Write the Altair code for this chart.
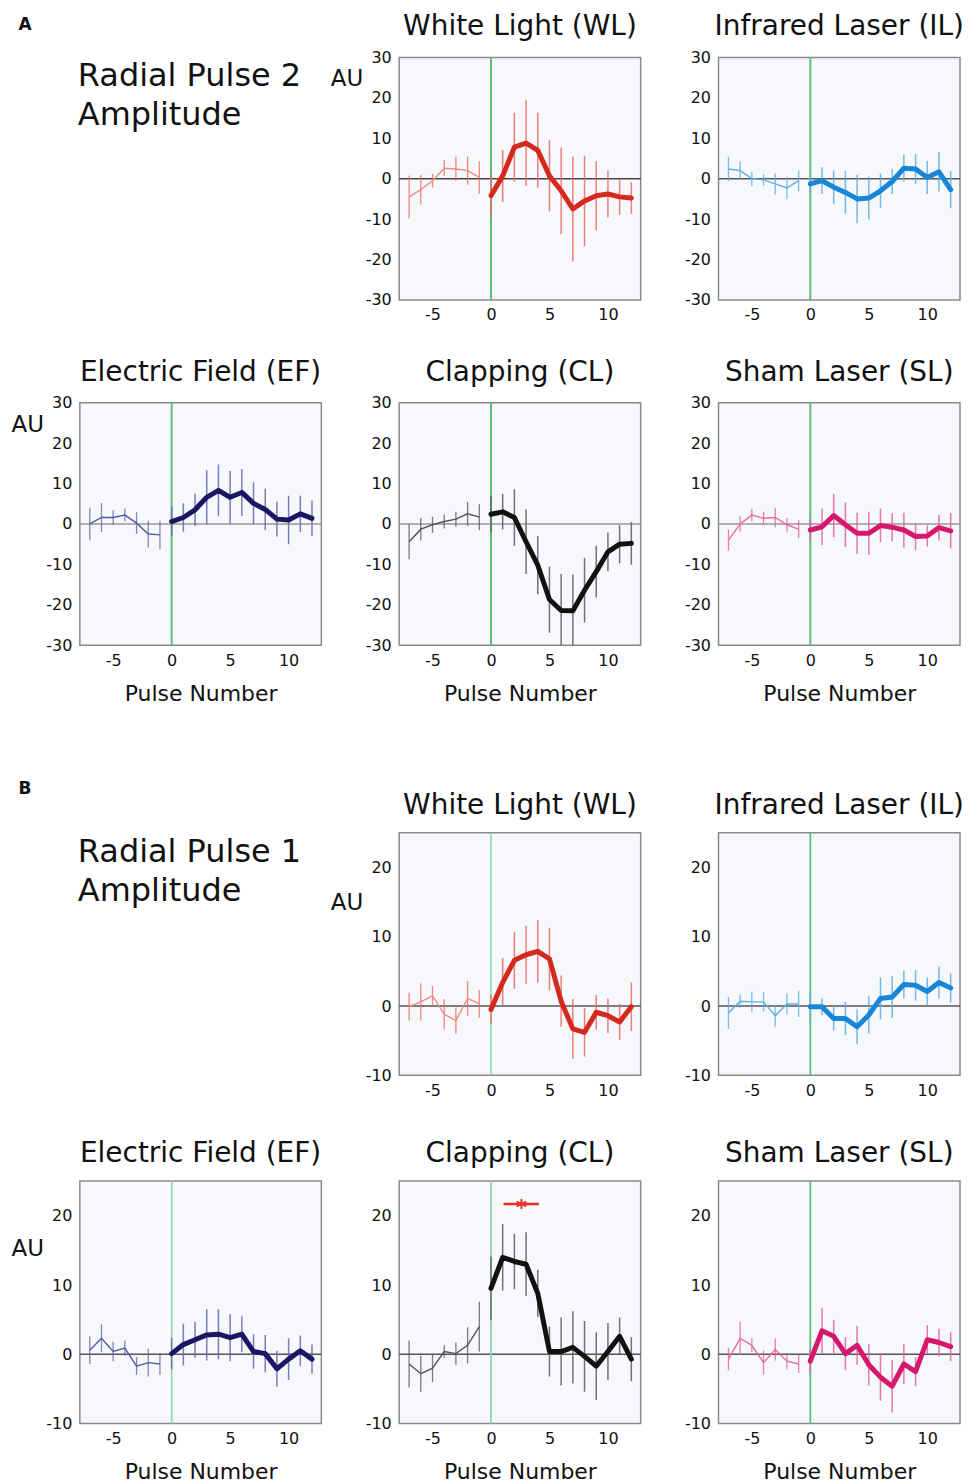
import altair as alt
import pandas as pd

# ---------------- data ----------------
PRE_X = [-7, -6, -5, -4, -3, -2, -1]
POST_X = [0, 1, 2, 3, 4, 5, 6, 7, 8, 9, 10, 11, 12]
X_TICKS = [-5, 0, 5, 10]
X_DOMAIN = [-7.85, 12.8]

A_Y_DOMAIN = [-30, 30]
A_Y_TICKS = [-30, -20, -10, 0, 10, 20, 30]
B_Y_DOMAIN = [-10, 25]
B_Y_TICKS = [-10, 0, 10, 20]

# Panel A: Radial Pulse 2 amplitude
A_WL_PRE = [-4.5, -2.7, -0.5, 2.6, 2.4, 2.0, 0.3]
A_WL_PRE_ERR = [5.3, 3.7, 1.7, 2.0, 3.0, 3.5, 4.0]
A_WL_POST = [-4.2, 0.7, 7.8, 8.8, 7.0, 0.7, -3.0, -7.5, -5.5, -4.2, -3.8, -4.5, -4.8]
A_WL_POST_ERR = [5.2, 6.4, 8.5, 10.6, 9.3, 8.8, 10.7, 13.0, 11.2, 8.5, 5.8, 4.4, 3.9]

A_IL_PRE = [2.4, 2.0, 0.0, -0.3, -1.3, -2.3, -0.5]
A_IL_PRE_ERR = [3.0, 2.3, 1.8, 1.4, 2.6, 2.8, 2.6]
A_IL_POST = [-1.3, -0.5, -2.1, -3.4, -5.0, -4.8, -3.0, -0.7, 2.6, 2.4, 0.3, 1.7, -2.7]
A_IL_POST_ERR = [2.3, 3.3, 4.1, 5.3, 6.0, 5.3, 4.2, 3.1, 3.3, 3.7, 4.1, 4.9, 4.6]

A_EF_PRE = [0.0, 1.6, 1.6, 2.2, 0.2, -2.5, -2.7]
A_EF_PRE_ERR = [4.0, 3.6, 1.8, 1.6, 2.7, 3.3, 3.5]
A_EF_POST = [0.6, 1.6, 3.5, 6.6, 8.3, 6.6, 7.8, 5.1, 3.6, 1.2, 1.0, 2.5, 1.4]
A_EF_POST_ERR = [3.6, 3.5, 4.0, 6.7, 6.4, 6.5, 5.8, 5.2, 5.1, 4.3, 6.0, 4.5, 4.4]

A_CL_PRE = [-4.4, -1.3, -0.2, 0.6, 1.2, 2.5, 1.7]
A_CL_PRE_ERR = [4.3, 2.8, 2.0, 1.7, 1.8, 3.0, 3.2]
A_CL_POST = [2.4, 3.0, 1.6, -4.4, -10.2, -18.7, -21.4, -21.5, -16.4, -11.8, -6.9, -5.0, -4.8]
A_CL_POST_ERR = [4.5, 4.4, 7.0, 8.0, 7.2, 8.2, 9.0, 9.0, 8.0, 6.4, 4.8, 4.7, 5.3]

A_SL_PRE = [-4.0, 0.0, 2.2, 1.4, 1.6, -0.2, -1.3]
A_SL_PRE_ERR = [2.6, 1.9, 1.5, 1.6, 2.4, 1.7, 2.2]
A_SL_POST = [-1.5, -0.7, 2.1, -0.2, -2.3, -2.3, -0.4, -0.8, -1.5, -3.1, -3.0, -0.9, -1.7]
A_SL_POST_ERR = [2.7, 4.5, 5.4, 5.5, 5.1, 5.3, 4.2, 3.5, 4.3, 3.3, 2.6, 3.2, 4.4]

# Panel B: Radial Pulse 1 amplitude
B_WL_PRE = [-0.1, 0.6, 1.5, -1.2, -2.1, 1.1, 0.3]
B_WL_PRE_ERR = [2.0, 2.7, 1.4, 2.2, 1.9, 2.5, 2.0]
B_WL_POST = [-0.5, 3.4, 6.6, 7.4, 7.9, 6.8, 0.7, -3.3, -3.8, -0.9, -1.4, -2.3, -0.1]
B_WL_POST_ERR = [2.1, 3.5, 4.1, 4.2, 4.5, 4.5, 3.7, 4.3, 3.5, 2.5, 2.5, 2.6, 3.5]

B_IL_PRE = [-1.0, 0.7, 0.6, 0.6, -1.4, 0.3, 0.3]
B_IL_PRE_ERR = [2.3, 1.0, 1.5, 1.4, 1.6, 1.5, 1.9]
B_IL_POST = [-0.1, -0.1, -1.8, -1.8, -3.0, -1.3, 1.1, 1.3, 3.1, 3.0, 2.1, 3.4, 2.6]
B_IL_POST_ERR = [1.8, 1.2, 1.7, 2.4, 2.5, 2.7, 3.0, 3.0, 2.0, 2.2, 2.0, 2.3, 2.1]

B_EF_PRE = [0.6, 2.3, 0.4, 0.9, -1.7, -1.2, -1.4]
B_EF_PRE_ERR = [2.0, 2.0, 1.4, 1.1, 1.3, 2.0, 1.6]
B_EF_POST = [0.1, 1.4, 2.1, 2.8, 2.9, 2.4, 2.9, 0.4, 0.1, -2.1, -0.7, 0.5, -0.7]
B_EF_POST_ERR = [2.3, 3.0, 2.6, 3.7, 3.6, 3.4, 2.6, 2.5, 2.7, 2.6, 3.0, 2.2, 2.1]

B_CL_PRE = [-1.4, -2.8, -2.0, 0.4, 0.1, 1.3, 4.0]
B_CL_PRE_ERR = [3.4, 2.6, 2.0, 0.9, 1.6, 2.6, 3.6]
B_CL_POST = [9.5, 14.0, 13.4, 13.0, 8.8, 0.4, 0.4, 1.0, -0.3, -1.7, 0.4, 2.6, -0.7]
B_CL_POST_ERR = [4.6, 4.8, 4.0, 4.6, 3.4, 3.6, 4.9, 5.2, 5.1, 4.9, 4.1, 2.7, 3.2]

B_SL_PRE = [-0.7, 2.3, 1.3, -1.2, 0.7, -1.0, -1.4]
B_SL_PRE_ERR = [1.6, 2.4, 1.0, 1.7, 1.6, 1.2, 1.3]
B_SL_POST = [-1.0, 3.4, 2.6, 0.1, 1.3, -1.5, -3.3, -4.6, -1.4, -2.5, 2.1, 1.7, 1.1]
B_SL_POST_ERR = [1.8, 3.3, 2.4, 2.4, 2.8, 3.0, 3.4, 3.8, 2.9, 2.1, 2.1, 2.0, 2.1]

# significance bar in B / Clapping
SIG_X = [1.07, 4.1]
SIG_Y = 21.7
SIG_STAR_X = 2.6

TITLES = {
    "WL": "White Light (WL)",
    "IL": "Infrared Laser (IL)",
    "EF": "Electric Field (EF)",
    "CL": "Clapping (CL)",
    "SL": "Sham Laser (SL)",
}

COLORS = {
    "WL": {"thick": "#d42a1d", "thin": "#f08a80", "err": "#ec6a60"},
    "IL": {"thick": "#1786d6", "thin": "#5cafe6", "err": "#5aaee6"},
    "EF": {"thick": "#1b1664", "thin": "#5e58a2", "err": "#6b65ad"},
    "CL": {"thick": "#111111", "thin": "#555555", "err": "#5a5a5a"},
    "SL": {"thick": "#d6176f", "thin": "#ea6aa2", "err": "#e4609a"},
}

FONT = "DejaVu Sans"
W = 242
H = 243
LABEL_EXPR = "'' + datum.value"


def make_df(xs, means, errs):
    return pd.DataFrame({
        "x": xs,
        "y": means,
        "lo": [m - e for m, e in zip(means, errs)],
        "hi": [m + e for m, e in zip(means, errs)],
    })


def panel(key, pre, pre_err, post, post_err, ydom, yticks, xtitle, title_offset,
          au_y=None, sig=False, zero_color="#555555", green="#5cbf7a", green_w=2.0):
    c = COLORS[key]
    xscale = alt.Scale(domain=X_DOMAIN, nice=False, zero=False)
    yscale = alt.Scale(domain=ydom, nice=False, zero=False)
    xaxis = alt.Axis(values=X_TICKS, title=xtitle, labelPadding=7, titlePadding=15,
                     labelExpr=LABEL_EXPR, labelFontSize=16, titleFontSize=22)
    if au_y is not None:
        yaxis = alt.Axis(values=yticks, title="AU", titleAngle=0, titleAlign="left",
                         titleBaseline="middle", titleX=-69, titleY=au_y,
                         titleFontSize=23, labelPadding=8, labelExpr=LABEL_EXPR,
                         labelFontSize=16)
    else:
        yaxis = alt.Axis(values=yticks, title="", labelPadding=8, labelExpr=LABEL_EXPR,
                         labelFontSize=16)

    def X(f):
        return alt.X(f, type="quantitative", scale=xscale, axis=xaxis)

    def Y(f):
        return alt.Y(f, type="quantitative", scale=yscale, axis=yaxis)

    pre_df = make_df(PRE_X, pre, pre_err)
    post_df = make_df(POST_X, post, post_err)
    zero_df = pd.DataFrame({"x": [0.0], "y": [0.0]})

    zero_rule = alt.Chart(zero_df).mark_rule(color=zero_color, strokeWidth=1.5).encode(y=Y("y"))
    green_rule = alt.Chart(zero_df).mark_rule(color=green, strokeWidth=green_w).encode(x=X("x"))
    err_pre = alt.Chart(pre_df).mark_rule(color=c["err"], strokeWidth=1.3, opacity=0.8, clip=True).encode(
        x=X("x"), y=Y("lo"), y2="hi")
    err_post = alt.Chart(post_df).mark_rule(color=c["err"], strokeWidth=1.5, opacity=0.85, clip=True).encode(
        x=X("x"), y=Y("lo"), y2="hi")
    line_pre = alt.Chart(pre_df).mark_line(color=c["thin"], strokeWidth=1.4).encode(x=X("x"), y=Y("y"))
    line_post = alt.Chart(post_df).mark_line(color=c["thick"], strokeWidth=5, strokeJoin="round",
                                             strokeCap="round").encode(x=X("x"), y=Y("y"))
    layers = [zero_rule, green_rule, err_pre, err_post, line_pre, line_post]
    if sig:
        sig_df = pd.DataFrame({"x": [SIG_X[0]], "x2": [SIG_X[1]], "y": [SIG_Y], "s": [SIG_STAR_X]})
        layers.append(alt.Chart(sig_df).mark_rule(color="#e8302a", strokeWidth=2.5).encode(
            x=X("x"), x2="x2", y=Y("y")))
        layers.append(alt.Chart(sig_df).mark_text(text="*", color="#e8302a", fontSize=22,
                                                  fontWeight="bold", baseline="middle", dy=4).encode(
            x=X("s"), y=Y("y")))
    return alt.layer(*layers).properties(
        width=W, height=H,
        title=alt.TitleParams(TITLES[key], fontSize=28, font=FONT, fontWeight="normal",
                              color="#111111", baseline="bottom", offset=title_offset),
        view=alt.ViewBackground(fill="#f6f8fc", stroke="#8a8a8a", strokeWidth=1.5),
    )


def text_cell(letter, line1, line2, letter_y):
    d = pd.DataFrame({"k": [0]})
    base = alt.Chart(d)
    t1 = base.mark_text(text=line1, align="left", baseline="middle", fontSize=32, font=FONT,
                        color="#111111").encode(x=alt.value(-2), y=alt.value(19))
    t2 = base.mark_text(text=line2, align="left", baseline="middle", fontSize=32, font=FONT,
                        color="#111111").encode(x=alt.value(-2), y=alt.value(58))
    t3 = base.mark_text(text=letter, align="center", baseline="middle", fontSize=17, font=FONT,
                        fontWeight="bold", color="#111111").encode(x=alt.value(-55), y=alt.value(letter_y))
    return alt.layer(t1, t2, t3).properties(
        width=W, height=H,
        view=alt.ViewBackground(fill="transparent", stroke="transparent"),
    )


A_OFF = -20
B_OFF = -16

gridA = alt.concat(
    text_cell("A", "Radial Pulse 2", "Amplitude", -32),
    panel("WL", A_WL_PRE, A_WL_PRE_ERR, A_WL_POST, A_WL_POST_ERR, A_Y_DOMAIN, A_Y_TICKS, "", A_OFF,
          au_y=21, zero_color="#444444"),
    panel("IL", A_IL_PRE, A_IL_PRE_ERR, A_IL_POST, A_IL_POST_ERR, A_Y_DOMAIN, A_Y_TICKS, "", A_OFF),
    panel("EF", A_EF_PRE, A_EF_PRE_ERR, A_EF_POST, A_EF_POST_ERR, A_Y_DOMAIN, A_Y_TICKS,
          "Pulse Number", A_OFF, au_y=22, zero_color="#999999"),
    panel("CL", A_CL_PRE, A_CL_PRE_ERR, A_CL_POST, A_CL_POST_ERR, A_Y_DOMAIN, A_Y_TICKS,
          "Pulse Number", A_OFF, zero_color="#999999"),
    panel("SL", A_SL_PRE, A_SL_PRE_ERR, A_SL_POST, A_SL_POST_ERR, A_Y_DOMAIN, A_Y_TICKS,
          "Pulse Number", A_OFF, zero_color="#999999"),
    columns=3, spacing={"row": 103, "column": 78}, bounds="flush", align="all",
)

gridB = alt.concat(
    text_cell("B", "Radial Pulse 1", "Amplitude", -44),
    panel("WL", B_WL_PRE, B_WL_PRE_ERR, B_WL_POST, B_WL_POST_ERR, B_Y_DOMAIN, B_Y_TICKS, "", B_OFF,
          au_y=70, green="#8fd6a8", green_w=1.6),
    panel("IL", B_IL_PRE, B_IL_PRE_ERR, B_IL_POST, B_IL_POST_ERR, B_Y_DOMAIN, B_Y_TICKS, "", B_OFF,
          green="#5cbf7a", green_w=1.8),
    panel("EF", B_EF_PRE, B_EF_PRE_ERR, B_EF_POST, B_EF_POST_ERR, B_Y_DOMAIN, B_Y_TICKS,
          "Pulse Number", B_OFF, au_y=68, green="#8fd6a8", green_w=1.6),
    panel("CL", B_CL_PRE, B_CL_PRE_ERR, B_CL_POST, B_CL_POST_ERR, B_Y_DOMAIN, B_Y_TICKS,
          "Pulse Number", B_OFF, sig=True, green="#8fd6a8", green_w=1.8),
    panel("SL", B_SL_PRE, B_SL_PRE_ERR, B_SL_POST, B_SL_POST_ERR, B_Y_DOMAIN, B_Y_TICKS,
          "Pulse Number", B_OFF, green="#5cbf7a", green_w=1.8),
    columns=3, spacing={"row": 106, "column": 78}, bounds="flush", align="all",
)

chart = alt.vconcat(gridA, gridB, spacing=74).properties(
    padding={"left": 2, "top": 3, "right": 0, "bottom": 0}
).configure(font=FONT).configure_axis(
    labelFont=FONT, titleFont=FONT, labelColor="#111111", titleColor="#111111",
    titleFontWeight="normal", ticks=False, domain=False, grid=False,
).configure_view(stroke="#8a8a8a")

chart.save("out.html", embed_options={"renderer": "svg", "actions": False})
